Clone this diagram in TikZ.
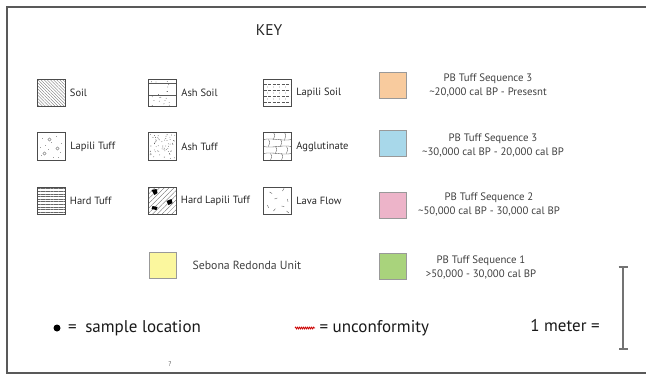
\documentclass[tikz,border=0pt]{standalone}
\usepackage{fontspec}
\setmainfont{PT Sans}
\usepackage{xcolor}
\usetikzlibrary{arrows.meta, positioning, calc, patterns.meta, decorations.pathmorphing}

\definecolor{seqpeach}{HTML}{F8CB9E}
\definecolor{seqblue}{HTML}{A8D8EA}
\definecolor{seqpink}{HTML}{EDB4C9}
\definecolor{seqgreen}{HTML}{A9D37C}
\definecolor{sebyellow}{HTML}{FBF79E}

% random stipple inside a path picture: seed, count
\newcommand{\stipple}[2]{\pgfmathsetseed{#1}
  \foreach \k in {1,...,#2}
    \fill[black!75] ($(path picture bounding box.center)+({rnd*25-12.5},{rnd*25-12.5})$) circle (.4);}

\begin{document}
\begin{tikzpicture}[x=1pt, y=-1pt, node distance=1pt,
    every node/.style={align=center, font=\fontsize{10.5}{12}\selectfont, text=black!85},
    litho/.style={draw=black!70, line width=1.3pt, minimum size=27.5pt, inner sep=0pt},
    unitbox/.style={draw=black!40, line width=.6pt, minimum width=27.5pt, minimum height=26.5pt, inner sep=0pt},
    seqtext/.style={font=\fontsize{10.8}{14}\selectfont, text=black!75},
    bigtext/.style={font=\fontsize{17}{19}\selectfont, text=black!90},
    soil/.style={litho, pattern={Lines[angle=-45,distance=2.2pt,line width=.35pt]}, pattern color=black!55},
    hardtuff/.style={litho, pattern={Lines[angle=0,distance=2.6pt,line width=.4pt]}, pattern color=black!60},
    ashtuff/.style={litho, path picture={\stipple{11}{60}}},
    ashsoil/.style={litho, path picture={
        \stipple{5}{22}
        \begin{scope}[shift={(path picture bounding box.center)}, black!65, line width=.4pt]
          \draw (-14,-10) -- (14,-10);
          \draw (-14,2) -- (14,2);
        \end{scope}}},
    lapsoil/.style={litho, path picture={
        \begin{scope}[shift={(path picture bounding box.center)}, black!65, line width=.35pt]
          \foreach \r in {-9,-3,3,9} \draw[dash pattern=on 3pt off 1.5pt] (-14,\r) -- (14,\r);
          \foreach \r in {-6,0,6} \foreach \c in {-10,-4,2,8} \fill (\c,\r) circle (.4);
        \end{scope}}},
    laptuff/.style={litho, path picture={
        \begin{scope}[shift={(path picture bounding box.center)}, black!60, line width=.3pt]
          \foreach \c/\r in {-9/-8,5/-10,-3/3,9/6,-10/9,2/11,10/-3,-6/-1,0/-4,7/11,-11/1}
            \fill (\c,\r) circle (.45);
          \foreach \c/\r in {-2/-7,6/2,-7/7} \draw (\c,\r) circle (1.7);
        \end{scope}}},
    hardlap/.style={litho, pattern={Lines[angle=45,distance=3.4pt,line width=.35pt]}, pattern color=black!60,
      path picture={
        \begin{scope}[shift={(path picture bounding box.center)}]
          \fill[black] (-11,-11) -- (-6,-12) -- (-5,-8) -- (-8,-6) -- cycle;
          \fill[black] (4,0) -- (9,-2) -- (10,2) -- (6,4) -- cycle;
          \fill[black] (-10,5) -- (-5,6) -- (-6,9) -- (-11,8) -- cycle;
        \end{scope}}},
    agglut/.style={litho, path picture={
        \begin{scope}[shift={(path picture bounding box.center)}, black!70, line width=.35pt]
          \draw (-14,-7) .. controls (-5,-9) and (5,-5) .. (14,-7);
          \draw (-14,0) .. controls (-5,2) and (5,-2) .. (14,0);
          \draw (-14,7) .. controls (-5,5) and (5,9) .. (14,7);
          \foreach \a/\b/\c in {-4/-14/-7,7/-14/-6,-9/-7/0,3/-7/0,-2/0/7,9/0/7,-7/7/14,4/7/14}
            \draw (\a,\b) .. controls (\a+1.5,\b+2) .. (\a,\c);
        \end{scope}}},
    lavaflow/.style={litho, path picture={
        \begin{scope}[shift={(path picture bounding box.center)}, black!70, line width=.35pt]
          \foreach \c/\r/\ang in {-8/-9/30,5/-10/-60,10/-2/80,-3/-2/-20,-10/4/70,4/5/10,-4/10/-50,9/10/40}
            \draw (\c,\r) -- ++(\ang:3);
        \end{scope}}},
]
\useasboundingbox (0,0) rectangle (646,381);

% open frame (no right side)
\draw[black!65, line width=1.3pt] (646,7) -- (7,7) -- (7,373) -- (646,373);

\node[font=\fontsize{15.5}{17}\selectfont] (key title) at (269,30) {KEY};

% lithology symbols
\node[soil] (soil) at (51.5,93) {};
\node[right=of soil] (soil lbl) {Soil};
\node[laptuff] (lapili tuff) at (51.5,146.5) {};
\node[right=of lapili tuff] (lapili tuff lbl) {Lapili Tuff};
\node[hardtuff] (hard tuff) at (51.5,201) {};
\node[right=of hard tuff] (hard tuff lbl) {Hard Tuff};

\node[ashsoil] (ash soil) at (162.5,93) {};
\node[right=of ash soil] (ash soil lbl) {Ash Soil};
\node[ashtuff] (ash tuff) at (162.5,146.5) {};
\node[right=of ash tuff] (ash tuff lbl) {Ash Tuff};
\node[hardlap] (hard lapili) at (162.5,201) {};
\node[right=of hard lapili] (hard lapili lbl) {Hard Lapili Tuff};

\node[lapsoil] (lapili soil) at (277.5,93) {};
\node[right=of lapili soil] (lapili soil lbl) {Lapili Soil};
\node[agglut] (agglutinate) at (277.5,146.5) {};
\node[right=of agglutinate] (agglutinate lbl) {Agglutinate};
\node[lavaflow] (lava flow) at (277.5,201) {};
\node[right=of lava flow] (lava flow lbl) {Lava Flow};

% tuff sequences
\node[unitbox, fill=seqpeach] (seq3 young) at (393,85.5) {};
\node[seqtext] (seq3 young lbl) at (488,85.5) {PB Tuff Sequence 3\\\textasciitilde 20,000 cal BP - Presesnt};
\node[unitbox, fill=seqblue] (seq3 old) at (393,143.5) {};
\node[seqtext] (seq3 old lbl) at (493,145) {PB Tuff Sequence 3\\\textasciitilde 30,000 cal BP - 20,000 cal BP};
\node[unitbox, fill=seqpink] (seq2) at (393,205.5) {};
\node[seqtext] (seq2 lbl) at (489,204.5) {PB Tuff Sequence 2\\\textasciitilde 50,000 cal BP - 30,000 cal BP};
\node[unitbox, fill=seqgreen] (seq1) at (393,266.5) {};
\node[seqtext] (seq1 lbl) at (481,267) {PB Tuff Sequence 1\\>50,000 - 30,000 cal BP};

\node[unitbox, fill=sebyellow] (sebona) at (163,265.5) {};
\node[seqtext, font=\fontsize{11.8}{14}\selectfont, right=12pt of sebona] (sebona lbl) {Sebona Redonda Unit};

% sample point, unconformity, scale
\node[circle, fill=black, minimum size=7pt, inner sep=0pt] (sample dot) at (57,328) {};
\node[bigtext, right=4pt of sample dot] (sample lbl) {=\enspace sample location};

\coordinate (wave start) at (295,328);
\coordinate (wave end) at (315,328);
\draw[red!80!black, line width=.8pt, decorate, decoration={snake, segment length=2pt, amplitude=.9pt}] (wave start) -- (wave end);
\node[bigtext, right=1pt of wave end] (unconf lbl) {= unconformity};

\node[bigtext] (meter lbl) at (565,326) {1 meter =};
\coordinate (bar top) at (623,266);
\coordinate (bar bottom) at (623,350);
\draw[black!55, line width=1.6pt, {Bar[width=9pt]}-{Bar[width=9pt]}] (bar top) -- (bar bottom);

\node[font=\fontsize{7}{8}\selectfont, text=black!60] (query) at (170,364) {?};
\end{tikzpicture}
\end{document}
